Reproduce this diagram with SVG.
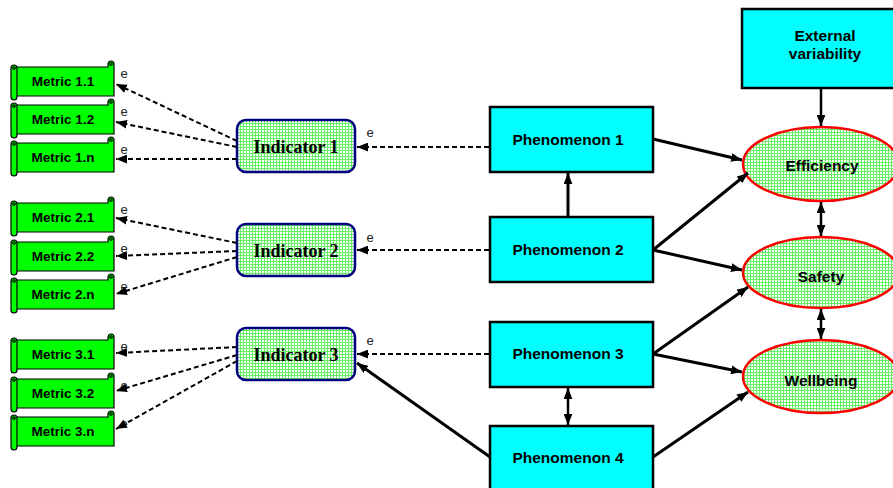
<svg xmlns="http://www.w3.org/2000/svg" width="893" height="488" viewBox="0 0 893 488">
  <defs>
    <pattern id="grid" width="3" height="3" patternUnits="userSpaceOnUse">
      <rect width="3" height="3" fill="#ffffff"/>
      <rect width="3" height="1" fill="#66ee66"/>
      <rect width="1" height="3" fill="#66ee66"/>
    </pattern>
    <marker id="arrow" viewBox="0 0 10 8" refX="10" refY="4" markerWidth="11" markerHeight="9" markerUnits="userSpaceOnUse" orient="auto-start-reverse">
      <path d="M0,0 L10,4 L0,8 Z" fill="#000"/>
    </marker>
    <!-- metric scroll shape, drawn with its body top at y=0 -->
    <g id="scroll">
      <path d="M16,0 L108,0 L108,-3 A3,3 0 0 1 114,-3 L114,29 L16,29 Z" fill="#00ff00" stroke="#000" stroke-width="1.2"/>
      <circle cx="111" cy="-3" r="1.6" fill="#006600" stroke="#000" stroke-width="0.6"/>
      <rect x="11" y="-2" width="6" height="35" rx="3" fill="#00ff00" stroke="#000" stroke-width="1.2"/>
      <circle cx="14" cy="1" r="1.6" fill="#006600" stroke="#000" stroke-width="0.6"/>
    </g>
  </defs>
  <style>
    .mtxt { font-family: "Liberation Sans", Arial, sans-serif; font-weight: bold; font-size: 13.5px; fill: #000; text-anchor: middle; }
    .itxt { font-family: "Liberation Serif", "Times New Roman", serif; font-weight: bold; font-size: 18px; fill: #000; text-anchor: middle; }
    .ptxt { font-family: "Liberation Sans", Arial, sans-serif; font-weight: bold; font-size: 15.5px; fill: #000; text-anchor: middle; }
    .etxt { font-family: "Liberation Sans", Arial, sans-serif; font-size: 13px; fill: #222; text-anchor: middle; }
    .ind { fill: url(#grid); stroke: #000080; stroke-width: 2.5; }
    .phen { fill: #00ffff; stroke: #000; stroke-width: 2.5; }
    .out { fill: url(#grid); stroke: #ff0000; stroke-width: 2.5; }
    .solid { stroke: #000; stroke-width: 3; fill: none; marker-end: url(#arrow); }
    .both { stroke: #000; stroke-width: 2.5; fill: none; marker-start: url(#arrow); marker-end: url(#arrow); }
    .dash { stroke: #000; stroke-width: 2; stroke-dasharray: 5 3; fill: none; marker-end: url(#arrow); }
  </style>

  <!-- metrics -->
  <g id="metric-1-1"><use href="#scroll" x="0" y="67"/><text class="mtxt" x="63" y="86">Metric 1.1</text><text class="etxt" x="124" y="78">e</text></g>
  <g id="metric-1-2"><use href="#scroll" x="0" y="105"/><text class="mtxt" x="63" y="124">Metric 1.2</text><text class="etxt" x="124" y="116">e</text></g>
  <g id="metric-1-n"><use href="#scroll" x="0" y="143"/><text class="mtxt" x="63" y="162">Metric 1.n</text><text class="etxt" x="124" y="154">e</text></g>
  <g id="metric-2-1"><use href="#scroll" x="0" y="203"/><text class="mtxt" x="63" y="222">Metric 2.1</text><text class="etxt" x="124" y="214">e</text></g>
  <g id="metric-2-2"><use href="#scroll" x="0" y="242"/><text class="mtxt" x="63" y="261">Metric 2.2</text><text class="etxt" x="124" y="253">e</text></g>
  <g id="metric-2-n"><use href="#scroll" x="0" y="280"/><text class="mtxt" x="63" y="299">Metric 2.n</text><text class="etxt" x="124" y="291">e</text></g>
  <g id="metric-3-1"><use href="#scroll" x="0" y="340"/><text class="mtxt" x="63" y="359">Metric 3.1</text><text class="etxt" x="124" y="351">e</text></g>
  <g id="metric-3-2"><use href="#scroll" x="0" y="379"/><text class="mtxt" x="63" y="398">Metric 3.2</text><text class="etxt" x="124" y="390">e</text></g>
  <g id="metric-3-n"><use href="#scroll" x="0" y="417"/><text class="mtxt" x="63" y="436">Metric 3.n</text><text class="etxt" x="124" y="428">e</text></g>

  <!-- indicators -->
  <g id="indicator-1"><rect class="ind" x="237" y="120" width="118" height="52" rx="9"/><text class="itxt" x="296" y="153">Indicator 1</text><text class="etxt" x="370" y="137">e</text></g>
  <g id="indicator-2"><rect class="ind" x="237" y="224" width="118" height="52" rx="9"/><text class="itxt" x="296" y="257">Indicator 2</text><text class="etxt" x="370" y="242">e</text></g>
  <g id="indicator-3"><rect class="ind" x="237" y="328" width="118" height="52" rx="9"/><text class="itxt" x="296" y="361">Indicator 3</text><text class="etxt" x="370" y="345">e</text></g>

  <!-- phenomena -->
  <g id="phenomenon-1"><rect class="phen" x="490" y="107" width="163" height="65"/><text class="ptxt" x="568" y="145">Phenomenon 1</text></g>
  <g id="phenomenon-2"><rect class="phen" x="490" y="217" width="163" height="65"/><text class="ptxt" x="568" y="255">Phenomenon 2</text></g>
  <g id="phenomenon-3"><rect class="phen" x="490" y="322" width="163" height="65"/><text class="ptxt" x="568" y="359">Phenomenon 3</text></g>
  <g id="phenomenon-4"><rect class="phen" x="490" y="426" width="163" height="65"/><text class="ptxt" x="568" y="463">Phenomenon 4</text></g>

  <!-- external variability -->
  <g id="external-variability"><rect class="phen" x="742" y="9" width="166" height="79"/><text class="ptxt" x="825" y="41">External</text><text class="ptxt" x="825" y="59">variability</text></g>

  <!-- outcomes -->
  <g id="efficiency"><ellipse class="out" cx="821" cy="164" rx="78" ry="37"/><text class="ptxt" x="822" y="171">Efficiency</text></g>
  <g id="safety"><ellipse class="out" cx="821" cy="272.5" rx="78" ry="35.5"/><text class="ptxt" x="821" y="282">Safety</text></g>
  <g id="wellbeing"><ellipse class="out" cx="821" cy="376.5" rx="78" ry="36.5"/><text class="ptxt" x="821" y="386">Wellbeing</text></g>

  <!-- connectors -->
  <g id="connectors">
    <!-- indicators to metrics -->
    <line class="dash" x1="237" y1="141" x2="116" y2="84"/>
    <line class="dash" x1="237" y1="147" x2="116" y2="122"/>
    <line class="dash" x1="237" y1="159" x2="116" y2="159"/>
    <line class="dash" x1="237" y1="243" x2="116" y2="218"/>
    <line class="dash" x1="237" y1="251" x2="116" y2="256"/>
    <line class="dash" x1="237" y1="257" x2="116" y2="294"/>
    <line class="dash" x1="237" y1="347" x2="116" y2="353"/>
    <line class="dash" x1="237" y1="355" x2="116" y2="391"/>
    <line class="dash" x1="237" y1="361" x2="116" y2="429"/>
    <!-- phenomena to indicators -->
    <line class="dash" x1="489" y1="147" x2="357" y2="147"/>
    <line class="dash" x1="489" y1="250" x2="357" y2="250"/>
    <line class="dash" x1="489" y1="354" x2="357" y2="354"/>
    <line class="solid" x1="490" y1="457" x2="357" y2="363"/>
    <!-- between phenomena -->
    <line class="solid" x1="568" y1="217" x2="568" y2="173"/>
    <line class="both" x1="568" y1="388" x2="568" y2="425"/>
    <!-- phenomena to outcomes -->
    <line class="solid" x1="653" y1="139" x2="742" y2="160"/>
    <line class="solid" x1="653" y1="250" x2="748" y2="173"/>
    <line class="solid" x1="653" y1="250" x2="742" y2="270"/>
    <line class="solid" x1="653" y1="354" x2="748" y2="287"/>
    <line class="solid" x1="653" y1="354" x2="742" y2="372"/>
    <line class="solid" x1="653" y1="457" x2="748" y2="392"/>
    <!-- external and outcome links -->
    <line class="solid" x1="821" y1="88" x2="821" y2="126" style="stroke-width:2.5"/>
    <line class="both" x1="821" y1="202" x2="821" y2="236"/>
    <line class="both" x1="821" y1="309" x2="821" y2="339"/>
  </g>
</svg>
